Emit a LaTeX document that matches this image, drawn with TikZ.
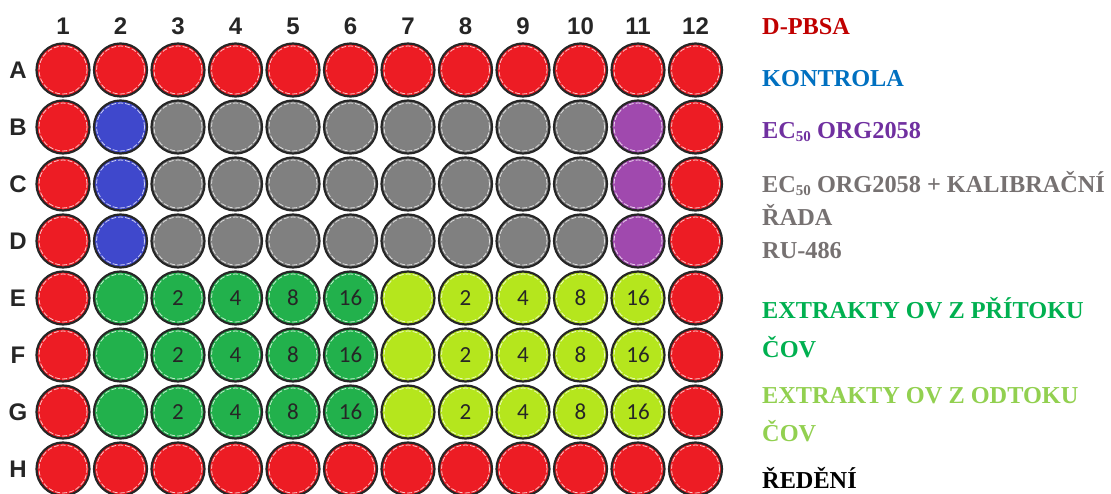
\documentclass[tikz,border=0pt]{standalone}
\usepackage{fontspec}
\newfontfamily\labf{Liberation Sans}
\newfontfamily\legf{Liberation Serif}
\newfontfamily\numf{Carlito}
\definecolor{wred}{HTML}{ED1C24}
\definecolor{wblue}{HTML}{3F48CC}
\definecolor{wgrey}{HTML}{808080}
\definecolor{wpurple}{HTML}{A049AE}
\definecolor{wgreen}{HTML}{22B14C}
\definecolor{wlime}{HTML}{B5E61D}
\definecolor{lred}{HTML}{C00000}
\definecolor{lblue}{HTML}{0070C0}
\definecolor{lpurple}{HTML}{7030A0}
\definecolor{lgrey}{HTML}{767171}
\definecolor{lgreen}{HTML}{00B050}
\definecolor{llime}{HTML}{92D050}
\newcommand\subfifty{{\fontsize{15}{15}\selectfont\raisebox{-2.5pt}{50}}}
\newcommand\wellrow[3]{%
  \foreach [count=\c] \col/\lab in {#3} {
    \node[well, fill=\col] (w#1\c) at ({63+(\c-1)*57.5},{70+(#2)*57}) {\lab};
  }%
}
\begin{document}
\begin{tikzpicture}[x=1pt,y=-1pt,
  well/.style={circle, draw=black!85, line width=2.2pt, minimum size=53pt, inner sep=0pt,
    font=\numf\fontsize{23}{23}\selectfont, text=black!85,
    path picture={\draw[white, opacity=0.75, line width=0.8pt, dash pattern=on 5pt off 2pt]
      (path picture bounding box.center) circle (24pt);}},
  hdr/.style={font=\labf\bfseries\fontsize{24}{24}\selectfont, text=black!85},
  leg/.style={anchor=base west, inner sep=0pt, font=\legf\bfseries\fontsize{24.3}{24.3}\selectfont}]
\useasboundingbox (0,0) rectangle (1111,494);
% column labels
\foreach \c in {1,...,12} {
  \node[hdr] (col\c) at ({63+(\c-1)*57.5},26) {\c};
}
% row labels
\foreach \r [count=\i from 0] in {A,B,C,D,E,F,G,H} {
  \node[hdr] (row\r) at (18,{70+\i*57}) {\r};
}
% wells
\wellrow{A}{0}{wred/{},wred/{},wred/{},wred/{},wred/{},wred/{},wred/{},wred/{},wred/{},wred/{},wred/{},wred/{}}
\wellrow{B}{1}{wred/{},wblue/{},wgrey/{},wgrey/{},wgrey/{},wgrey/{},wgrey/{},wgrey/{},wgrey/{},wgrey/{},wpurple/{},wred/{}}
\wellrow{C}{2}{wred/{},wblue/{},wgrey/{},wgrey/{},wgrey/{},wgrey/{},wgrey/{},wgrey/{},wgrey/{},wgrey/{},wpurple/{},wred/{}}
\wellrow{D}{3}{wred/{},wblue/{},wgrey/{},wgrey/{},wgrey/{},wgrey/{},wgrey/{},wgrey/{},wgrey/{},wgrey/{},wpurple/{},wred/{}}
\wellrow{E}{4}{wred/{},wgreen/{},wgreen/2,wgreen/4,wgreen/8,wgreen/16,wlime/{},wlime/2,wlime/4,wlime/8,wlime/16,wred/{}}
\wellrow{F}{5}{wred/{},wgreen/{},wgreen/2,wgreen/4,wgreen/8,wgreen/16,wlime/{},wlime/2,wlime/4,wlime/8,wlime/16,wred/{}}
\wellrow{G}{6}{wred/{},wgreen/{},wgreen/2,wgreen/4,wgreen/8,wgreen/16,wlime/{},wlime/2,wlime/4,wlime/8,wlime/16,wred/{}}
\wellrow{H}{7}{wred/{},wred/{},wred/{},wred/{},wred/{},wred/{},wred/{},wred/{},wred/{},wred/{},wred/{},wred/{}}
% legend
\node[leg, text=lred] (l1) at (762,35) {D-PBSA};
\node[leg, text=lblue] (l2) at (762,87) {KONTROLA};
\node[leg, text=lpurple] (l3) at (762,139) {EC\subfifty{} ORG2058};
\node[leg, text=lgrey] (l4a) at (762,193) {EC\subfifty{} ORG2058 + KALIBRAČNÍ};
\node[leg, text=lgrey] (l4b) at (762,226) {ŘADA};
\node[leg, text=lgrey] (l4c) at (762,259) {RU-486};
\node[leg, text=lgreen] (l5a) at (762,319) {EXTRAKTY OV Z PŘÍTOKU};
\node[leg, text=lgreen] (l5b) at (762,357) {ČOV};
\node[leg, text=llime] (l6a) at (762,403) {EXTRAKTY OV Z ODTOKU};
\node[leg, text=llime] (l6b) at (762,441) {ČOV};
\node[leg, text=black] (l7) at (762,488) {ŘEDĚNÍ};
\end{tikzpicture}
\end{document}
